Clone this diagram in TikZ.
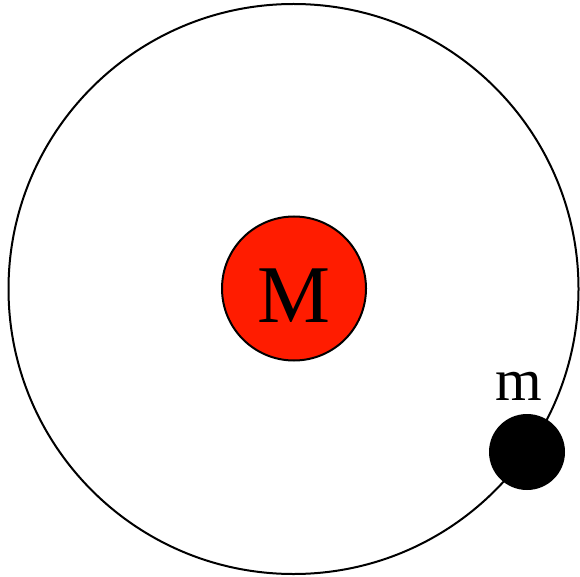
\documentclass[tikz,border=0pt]{standalone}
\usepackage{fontspec}
\setmainfont{Liberation Serif}
\definecolor{massred}{HTML}{FF1C00}
\begin{document}
\begin{tikzpicture}[x=1pt,y=-1pt,
  orbit/.style={draw=black,line width=2pt,fill=none},
  bigmass/.style={circle,draw=black,line width=2pt,fill=massred,minimum size=144pt,inner sep=0pt},
  smallmass/.style={circle,fill=black,minimum size=76pt,inner sep=0pt},
  lbl/.style={inner sep=0pt,anchor=base}]
\useasboundingbox (0,0) rectangle (580,577);
\draw[orbit] (293.5,289) circle (285);
\node[bigmass] (M) at (294,288.5) {};
\node[lbl] (Mtext) at (294,322) {\fontsize{82}{82}\selectfont M};
\node[smallmass] (m) at (527,452) {};
\node[lbl] (mtext) at (518.5,400) {\fontsize{60}{60}\selectfont m};
\end{tikzpicture}
\end{document}
